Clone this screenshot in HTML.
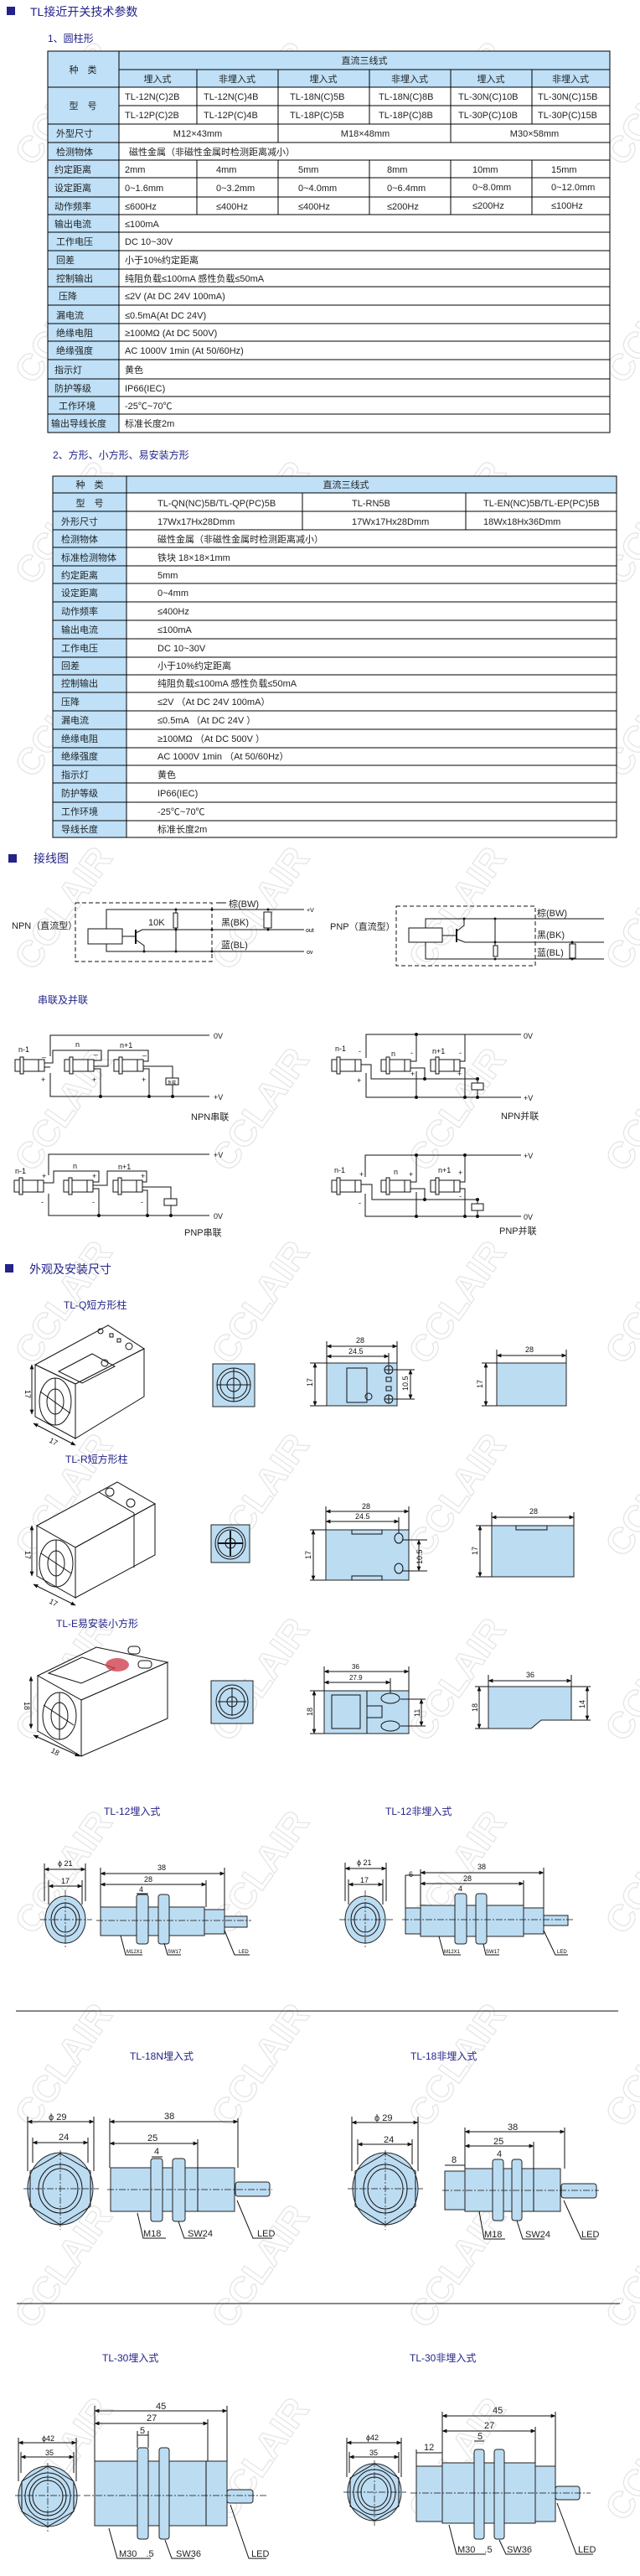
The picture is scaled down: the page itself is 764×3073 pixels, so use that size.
<!DOCTYPE html>
<html><head><meta charset="utf-8"><style>
html,body{margin:0;padding:0;background:#fff;}
svg{display:block;}
text{font-family:"Liberation Sans Narrow","Liberation Sans","Noto Sans CJK SC",sans-serif;}
.t{font-size:11px;fill:#222;}
.h{font-size:14px;fill:#23238a;}
.s{font-size:12px;fill:#23238a;}
.d{font-size:9px;fill:#111;}
.wm{font-size:44px;font-weight:bold;fill:none;stroke:#e4e4e4;stroke-width:1.2;font-family:"Liberation Sans",sans-serif;}
.ln{stroke:#111;stroke-width:1;fill:none;}
.bf{fill:#bcdcf2;stroke:#222;stroke-width:1;}
.dash{stroke:#111;stroke-width:1;fill:none;stroke-dasharray:5 3;}
.cl{stroke:#111;stroke-width:.7;stroke-dasharray:8 2 2 2;fill:none;}
</style></head><body>
<svg width="764" height="3073" viewBox="0 0 764 3073" xmlns="http://www.w3.org/2000/svg">
<defs>
<marker id="a" viewBox="0 0 10 10" refX="9" refY="5" markerWidth="6" markerHeight="6" orient="auto-start-reverse"><path d="M0,1 L10,5 L0,9 z" fill="#111"/></marker>
<g id="sen"><rect x="0" y="0" width="35" height="14" fill="#fff" stroke="#111"/><rect x="6" y="-3" width="4" height="20" fill="#fff" stroke="#111"/><line x1="28" y1="0" x2="28" y2="14" stroke="#111"/></g>
</defs>

<!-- watermarks -->
<g>
<text class="wm" transform="translate(40,200) rotate(-55)">CCLAIR</text>
<text class="wm" transform="translate(275,200) rotate(-55)">CCLAIR</text>
<text class="wm" transform="translate(510,200) rotate(-55)">CCLAIR</text>
<text class="wm" transform="translate(745,200) rotate(-55)">CCLAIR</text>
<text class="wm" transform="translate(40,460) rotate(-55)">CCLAIR</text>
<text class="wm" transform="translate(275,460) rotate(-55)">CCLAIR</text>
<text class="wm" transform="translate(510,460) rotate(-55)">CCLAIR</text>
<text class="wm" transform="translate(745,460) rotate(-55)">CCLAIR</text>
<text class="wm" transform="translate(40,700) rotate(-55)">CCLAIR</text>
<text class="wm" transform="translate(275,700) rotate(-55)">CCLAIR</text>
<text class="wm" transform="translate(510,700) rotate(-55)">CCLAIR</text>
<text class="wm" transform="translate(745,700) rotate(-55)">CCLAIR</text>
<text class="wm" transform="translate(40,930) rotate(-55)">CCLAIR</text>
<text class="wm" transform="translate(275,930) rotate(-55)">CCLAIR</text>
<text class="wm" transform="translate(510,930) rotate(-55)">CCLAIR</text>
<text class="wm" transform="translate(745,930) rotate(-55)">CCLAIR</text>
<text class="wm" transform="translate(40,1160) rotate(-55)">CCLAIR</text>
<text class="wm" transform="translate(275,1160) rotate(-55)">CCLAIR</text>
<text class="wm" transform="translate(510,1160) rotate(-55)">CCLAIR</text>
<text class="wm" transform="translate(745,1160) rotate(-55)">CCLAIR</text>
<text class="wm" transform="translate(40,1400) rotate(-55)">CCLAIR</text>
<text class="wm" transform="translate(275,1400) rotate(-55)">CCLAIR</text>
<text class="wm" transform="translate(510,1400) rotate(-55)">CCLAIR</text>
<text class="wm" transform="translate(745,1400) rotate(-55)">CCLAIR</text>
<text class="wm" transform="translate(40,1630) rotate(-55)">CCLAIR</text>
<text class="wm" transform="translate(275,1630) rotate(-55)">CCLAIR</text>
<text class="wm" transform="translate(510,1630) rotate(-55)">CCLAIR</text>
<text class="wm" transform="translate(745,1630) rotate(-55)">CCLAIR</text>
<text class="wm" transform="translate(40,1860) rotate(-55)">CCLAIR</text>
<text class="wm" transform="translate(275,1860) rotate(-55)">CCLAIR</text>
<text class="wm" transform="translate(510,1860) rotate(-55)">CCLAIR</text>
<text class="wm" transform="translate(745,1860) rotate(-55)">CCLAIR</text>
<text class="wm" transform="translate(40,2080) rotate(-55)">CCLAIR</text>
<text class="wm" transform="translate(275,2080) rotate(-55)">CCLAIR</text>
<text class="wm" transform="translate(510,2080) rotate(-55)">CCLAIR</text>
<text class="wm" transform="translate(745,2080) rotate(-55)">CCLAIR</text>
<text class="wm" transform="translate(40,2310) rotate(-55)">CCLAIR</text>
<text class="wm" transform="translate(275,2310) rotate(-55)">CCLAIR</text>
<text class="wm" transform="translate(510,2310) rotate(-55)">CCLAIR</text>
<text class="wm" transform="translate(745,2310) rotate(-55)">CCLAIR</text>
<text class="wm" transform="translate(40,2540) rotate(-55)">CCLAIR</text>
<text class="wm" transform="translate(275,2540) rotate(-55)">CCLAIR</text>
<text class="wm" transform="translate(510,2540) rotate(-55)">CCLAIR</text>
<text class="wm" transform="translate(745,2540) rotate(-55)">CCLAIR</text>
<text class="wm" transform="translate(40,2780) rotate(-55)">CCLAIR</text>
<text class="wm" transform="translate(275,2780) rotate(-55)">CCLAIR</text>
<text class="wm" transform="translate(510,2780) rotate(-55)">CCLAIR</text>
<text class="wm" transform="translate(745,2780) rotate(-55)">CCLAIR</text>
<text class="wm" transform="translate(40,3010) rotate(-55)">CCLAIR</text>
<text class="wm" transform="translate(275,3010) rotate(-55)">CCLAIR</text>
<text class="wm" transform="translate(510,3010) rotate(-55)">CCLAIR</text>
<text class="wm" transform="translate(745,3010) rotate(-55)">CCLAIR</text>
</g>

<!-- Title -->
<rect x="8" y="8" width="10" height="10" fill="#23238a"/>
<text class="h" x="36" y="19">TL接近开关技术参数</text>
<text class="s" x="57" y="50">1、圆柱形</text>

<!-- TABLE 1 -->
<rect x="57" y="61" width="671" height="455" fill="#fff" stroke="#000"/>
<rect x="57" y="61" width="85" height="455" fill="#bfe0f7"/>
<rect x="142" y="61" width="586" height="43" fill="#bfe0f7"/>
<g stroke="#000" stroke-width="1">
<rect x="57" y="61" width="671" height="455" fill="none"/>
<line x1="142" y1="83" x2="728" y2="83"/>
<line x1="57" y1="104" x2="728" y2="104"/>
<line x1="142" y1="126" x2="728" y2="126"/>
<line x1="57" y1="148" x2="728" y2="148"/>
<line x1="57" y1="170" x2="728" y2="170"/>
<line x1="57" y1="191" x2="728" y2="191"/>
<line x1="57" y1="212" x2="728" y2="212"/>
<line x1="57" y1="235" x2="728" y2="235"/>
<line x1="57" y1="256" x2="728" y2="256"/>
<line x1="57" y1="277" x2="728" y2="277"/>
<line x1="57" y1="299" x2="728" y2="299"/>
<line x1="57" y1="321" x2="728" y2="321"/>
<line x1="57" y1="342" x2="728" y2="342"/>
<line x1="57" y1="364" x2="728" y2="364"/>
<line x1="57" y1="386" x2="728" y2="386"/>
<line x1="57" y1="407" x2="728" y2="407"/>
<line x1="57" y1="429" x2="728" y2="429"/>
<line x1="57" y1="452" x2="728" y2="452"/>
<line x1="57" y1="473" x2="728" y2="473"/>
<line x1="57" y1="494" x2="728" y2="494"/>
<line x1="142" y1="61" x2="142" y2="516"/>
<line x1="235" y1="83" x2="235" y2="148"/><line x1="235" y1="191" x2="235" y2="256"/>
<line x1="332" y1="83" x2="332" y2="170"/><line x1="332" y1="191" x2="332" y2="256"/>
<line x1="441" y1="83" x2="441" y2="148"/><line x1="441" y1="191" x2="441" y2="256"/>
<line x1="538" y1="83" x2="538" y2="170"/><line x1="538" y1="191" x2="538" y2="256"/>
<line x1="635" y1="83" x2="635" y2="148"/><line x1="635" y1="191" x2="635" y2="256"/>
</g>
<g class="t">
<text x="99" y="87" text-anchor="middle">种　类</text>
<text x="435" y="76" text-anchor="middle">直流三线式</text>
<text x="188" y="98" text-anchor="middle">埋入式</text><text x="283" y="98" text-anchor="middle">非埋入式</text>
<text x="386" y="98" text-anchor="middle">埋入式</text><text x="489" y="98" text-anchor="middle">非埋入式</text>
<text x="586" y="98" text-anchor="middle">埋入式</text><text x="681" y="98" text-anchor="middle">非埋入式</text>
<text x="99" y="130" text-anchor="middle">型　号</text>
<text x="149" y="119">TL-12N(C)2B</text><text x="243" y="119">TL-12N(C)4B</text><text x="346" y="119">TL-18N(C)5B</text><text x="452" y="119">TL-18N(C)8B</text><text x="547" y="119">TL-30N(C)10B</text><text x="642" y="119">TL-30N(C)15B</text>
<text x="149" y="141">TL-12P(C)2B</text><text x="243" y="141">TL-12P(C)4B</text><text x="346" y="141">TL-18P(C)5B</text><text x="452" y="141">TL-18P(C)8B</text><text x="547" y="141">TL-30P(C)10B</text><text x="642" y="141">TL-30P(C)15B</text>
<text x="67" y="163">外型尺寸</text>
<text x="236" y="163" text-anchor="middle">M12×43mm</text><text x="436" y="163" text-anchor="middle">M18×48mm</text><text x="638" y="163" text-anchor="middle">M30×58mm</text>
<text x="67" y="185">检测物体</text><text x="154" y="185">磁性金属（非磁性金属时检测距离减小）</text>
<text x="65" y="206">约定距离</text>
<text x="149" y="206">2mm</text><text x="258" y="206">4mm</text><text x="356" y="206">5mm</text><text x="462" y="206">8mm</text><text x="564" y="206">10mm</text><text x="658" y="206">15mm</text>
<text x="65" y="228">设定距离</text>
<text x="149" y="228">0~1.6mm</text><text x="258" y="228">0~3.2mm</text><text x="356" y="228">0~4.0mm</text><text x="462" y="228">0~6.4mm</text><text x="564" y="227">0~8.0mm</text><text x="658" y="227">0~12.0mm</text>
<text x="65" y="250">动作频率</text>
<text x="149" y="250">≤600Hz</text><text x="258" y="250">≤400Hz</text><text x="356" y="250">≤400Hz</text><text x="462" y="250">≤200Hz</text><text x="564" y="249">≤200Hz</text><text x="658" y="249">≤100Hz</text>
<text x="65" y="271">输出电流</text><text x="149" y="271">≤100mA</text>
<text x="67" y="292">工作电压</text><text x="149" y="292">DC 10~30V</text>
<text x="67" y="314">回差</text><text x="149" y="314">小于10%约定距离</text>
<text x="67" y="336">控制输出</text><text x="149" y="336">纯阻负载≤100mA 感性负载≤50mA</text>
<text x="70" y="357">压降</text><text x="149" y="357">≤2V (At DC 24V 100mA)</text>
<text x="67" y="380">漏电流</text><text x="149" y="380">≤0.5mA(At DC 24V)</text>
<text x="67" y="401">绝缘电阻</text><text x="149" y="401">≥100MΩ (At DC 500V)</text>
<text x="67" y="422">绝缘强度</text><text x="149" y="422">AC 1000V 1min (At 50/60Hz)</text>
<text x="65" y="445">指示灯</text><text x="149" y="445">黄色</text>
<text x="65" y="467">防护等级</text><text x="149" y="467">IP66(IEC)</text>
<text x="70" y="488">工作环境</text><text x="149" y="488">-25℃~70℃</text>
<text x="61" y="509">输出导线长度</text><text x="149" y="509">标准长度2m</text>
</g>

<text class="s" x="63" y="547">2、方形、小方形、易安装方形</text>

<!-- TABLE 2 -->
<rect x="63" y="568" width="673" height="431" fill="#fff"/>
<rect x="63" y="568" width="88" height="431" fill="#bfe0f7"/>
<rect x="151" y="568" width="585" height="20" fill="#bfe0f7"/>
<g stroke="#000" stroke-width="1">
<rect x="63" y="568" width="673" height="431" fill="none"/>
<line x1="63" y1="588" x2="736" y2="588"/><line x1="63" y1="610" x2="736" y2="610"/><line x1="63" y1="632" x2="736" y2="632"/>
<line x1="63" y1="653" x2="736" y2="653"/><line x1="63" y1="675" x2="736" y2="675"/><line x1="63" y1="696" x2="736" y2="696"/>
<line x1="63" y1="718" x2="736" y2="718"/><line x1="63" y1="740" x2="736" y2="740"/><line x1="63" y1="762" x2="736" y2="762"/>
<line x1="63" y1="784" x2="736" y2="784"/><line x1="63" y1="805" x2="736" y2="805"/><line x1="63" y1="826" x2="736" y2="826"/>
<line x1="63" y1="848" x2="736" y2="848"/><line x1="63" y1="870" x2="736" y2="870"/><line x1="63" y1="892" x2="736" y2="892"/>
<line x1="63" y1="913" x2="736" y2="913"/><line x1="63" y1="934" x2="736" y2="934"/><line x1="63" y1="957" x2="736" y2="957"/>
<line x1="63" y1="979" x2="736" y2="979"/>
<line x1="151" y1="568" x2="151" y2="999"/>
<line x1="361" y1="588" x2="361" y2="632"/><line x1="556" y1="588" x2="556" y2="632"/>
</g>
<g class="t">
<text x="107" y="582" text-anchor="middle">种　类</text><text x="413" y="582" text-anchor="middle">直流三线式</text>
<text x="107" y="604" text-anchor="middle">型　号</text>
<text x="188" y="604">TL-QN(NC)5B/TL-QP(PC)5B</text><text x="420" y="604">TL-RN5B</text><text x="577" y="604">TL-EN(NC)5B/TL-EP(PC)5B</text>
<text x="73" y="626">外形尺寸</text><text x="188" y="626">17Wx17Hx28Dmm</text><text x="420" y="626">17Wx17Hx28Dmm</text><text x="577" y="626">18Wx18Hx36Dmm</text>
<text x="73" y="647">检测物体</text><text x="188" y="647">磁性金属（非磁性金属时检测距离减小）</text>
<text x="73" y="669">标准检测物体</text><text x="188" y="669">铁块 18×18×1mm</text>
<text x="73" y="690">约定距离</text><text x="188" y="690">5mm</text>
<text x="73" y="711">设定距离</text><text x="188" y="711">0~4mm</text>
<text x="73" y="733">动作频率</text><text x="188" y="733">≤400Hz</text>
<text x="73" y="755">输出电流</text><text x="188" y="755">≤100mA</text>
<text x="73" y="777">工作电压</text><text x="188" y="777">DC 10~30V</text>
<text x="73" y="798">回差</text><text x="188" y="798">小于10%约定距离</text>
<text x="73" y="819">控制输出</text><text x="188" y="819">纯阻负载≤100mA 感性负载≤50mA</text>
<text x="73" y="841">压降</text><text x="188" y="841">≤2V （At DC 24V 100mA）</text>
<text x="73" y="863">漏电流</text><text x="188" y="863">≤0.5mA （At DC 24V ）</text>
<text x="73" y="885">绝缘电阻</text><text x="188" y="885">≥100MΩ （At DC 500V ）</text>
<text x="73" y="906">绝缘强度</text><text x="188" y="906">AC 1000V 1min （At 50/60Hz）</text>
<text x="73" y="928">指示灯</text><text x="188" y="928">黄色</text>
<text x="73" y="950">防护等级</text><text x="188" y="950">IP66(IEC)</text>
<text x="73" y="972">工作环境</text><text x="188" y="972">-25℃~70℃</text>
<text x="73" y="993">导线长度</text><text x="188" y="993">标准长度2m</text>
</g>

<!-- Wiring -->
<rect x="10" y="1019" width="10" height="10" fill="#23238a"/>
<text class="h" x="40" y="1029">接线图</text>

<!-- NPN -->
<text class="t" x="14" y="1108">NPN（直流型）</text>
<rect class="dash" x="90" y="1077" width="163" height="70"/>
<g class="ln">
<polyline points="363,1085 127,1085 127,1108"/>
<rect x="105" y="1108" width="41" height="18" fill="#fff"/>
<polyline points="127,1126 127,1135 363,1135"/>
<line x1="146" y1="1117" x2="161" y2="1117"/>
<line x1="162" y1="1109" x2="162" y2="1126" stroke-width="2"/>
<polyline points="162,1113 170,1109 363,1109"/>
<polyline points="162,1121 172,1128 172,1135"/>
<line x1="210" y1="1085" x2="210" y2="1089"/><rect x="207" y="1089" width="5" height="18" fill="#fff"/>
<line x1="210" y1="1109" x2="210" y2="1135"/>
<rect x="315" y="1088" width="9" height="19" fill="#fff"/>
</g>
<g fill="#111"><circle cx="210" cy="1085" r="1.5"/><circle cx="210" cy="1109" r="1.5"/><circle cx="210" cy="1135" r="1.5"/><circle cx="172" cy="1135" r="1.5"/><circle cx="253" cy="1085" r="1.5"/><circle cx="253" cy="1109" r="1.5"/><circle cx="253" cy="1135" r="1.5"/><circle cx="320" cy="1085" r="1.5"/><circle cx="320" cy="1109" r="1.5"/></g>
<line x1="258" y1="1077" x2="270" y2="1077" class="ln"/>
<text class="t" x="273" y="1082">棕(BW)</text>
<text class="t" x="264" y="1104">黑(BK)</text>
<text class="t" x="264" y="1131">蓝(BL)</text>
<text class="t" x="177" y="1104">10K</text>
<text x="366" y="1088" style="font-size:7px">+V</text>
<text x="365" y="1112" style="font-size:7px">out</text>
<text x="366" y="1138" style="font-size:7px">ov</text>

<!-- PNP -->
<text class="t" x="394" y="1109">PNP（直流型）</text>
<rect class="dash" x="473" y="1081" width="166" height="71"/>
<g class="ln">
<polyline points="721,1096 508,1096 508,1107"/>
<rect x="488" y="1107" width="40" height="17" fill="#fff"/>
<polyline points="508,1124 508,1144 721,1144"/>
<line x1="528" y1="1116" x2="544" y2="1116"/>
<line x1="545" y1="1108" x2="545" y2="1124" stroke-width="2"/>
<polyline points="545,1111 554,1104 554,1096"/>
<polyline points="545,1120 555,1124 721,1124"/>
<line x1="591" y1="1096" x2="591" y2="1124"/>
<rect x="589" y="1128" width="5" height="13" fill="#fff"/><line x1="591" y1="1124" x2="591" y2="1128"/>
<rect x="680" y="1126" width="7" height="17" fill="#fff"/>
</g>
<g fill="#111"><circle cx="554" cy="1096" r="1.5"/><circle cx="591" cy="1096" r="1.5"/><circle cx="591" cy="1124" r="1.5"/><circle cx="591" cy="1144" r="1.5"/><circle cx="683" cy="1124" r="1.5"/><circle cx="683" cy="1144" r="1.5"/></g>
<text class="t" x="641" y="1093">棕(BW)</text>
<text class="t" x="641" y="1119">黑(BK)</text>
<text class="t" x="641" y="1140">蓝(BL)</text>

<text class="s" x="45" y="1197">串联及并联</text>

<!-- NPN series -->
<g class="ln">
<polyline points="250,1235 60,1235 60,1260"/>
<polyline points="60,1280 60,1308 250,1308"/>
<polyline points="53,1268 63,1268 63,1253 121,1253 121,1265 112,1265"/>
<polyline points="112,1272 129,1272 129,1253 177,1253 177,1266 171,1266"/>
<polyline points="171,1272 206,1272 206,1286"/><rect x="198" y="1286" width="15" height="8" fill="#fff"/><line x1="206" y1="1294" x2="206" y2="1308"/>
<polyline points="53,1273 60,1273"/>
<polyline points="112,1275 120,1275 120,1308"/>
<polyline points="171,1275 178,1275 178,1308"/>
</g>
<use href="#sen" x="18" y="1264"/><use href="#sen" x="77" y="1264"/><use href="#sen" x="136" y="1264"/>
<g fill="#111"><circle cx="120" cy="1308" r="2"/><circle cx="178" cy="1308" r="2"/><circle cx="206" cy="1308" r="2"/></g>
<g class="d"><text x="22" y="1255">n-1</text><text x="90" y="1249">n</text><text x="143" y="1250">n+1</text><text x="255" y="1239">0V</text><text x="255" y="1312">+V</text>
<text x="49" y="1291">+</text><text x="110" y="1291">+</text><text x="169" y="1291">+</text><text x="50" y="1260">_</text><text x="112" y="1257">_</text><text x="170" y="1258">_</text>
<text x="200" y="1293" style="font-size:5px">负载</text></g>
<text class="t" x="228" y="1336">NPN串联</text>

<!-- NPN parallel -->
<g class="ln">
<polyline points="622,1234 437,1234 437,1262"/>
<polyline points="437,1280 437,1309 622,1309"/>
<polyline points="497,1234 497,1266 489,1266"/>
<polyline points="555,1234 555,1266 548,1266"/>
<polyline points="430,1270 443,1270 443,1287 570,1287 570,1309"/>
<polyline points="489,1274 507,1274 507,1287"/>
<polyline points="548,1274 555,1274 555,1309"/>
<polyline points="497,1278 497,1309"/>
<rect x="563" y="1292" width="14" height="8" fill="#fff"/>
</g>
<use href="#sen" x="396" y="1264"/><use href="#sen" x="455" y="1264"/><use href="#sen" x="514" y="1264"/>
<g fill="#111"><circle cx="497" cy="1234" r="2"/><circle cx="507" cy="1287" r="2"/><circle cx="570" cy="1287" r="2"/><circle cx="497" cy="1309" r="2"/><circle cx="555" cy="1309" r="2"/><circle cx="570" cy="1309" r="2"/></g>
<g class="d"><text x="400" y="1254">n-1</text><text x="467" y="1260">n</text><text x="516" y="1257">n+1</text><text x="625" y="1239">0V</text><text x="625" y="1313">+V</text>
<text x="426" y="1292">+</text><text x="490" y="1284">+</text><text x="546" y="1284">+</text><text x="428" y="1257">-</text><text x="490" y="1259">-</text><text x="548" y="1259">-</text></g>
<text class="t" x="598" y="1335">NPN并联</text>

<!-- PNP series -->
<g class="ln">
<polyline points="250,1377 58,1377 58,1402"/>
<polyline points="58,1424 58,1450 250,1450"/>
<polyline points="51,1411 64,1411 64,1397 118,1397 118,1410 110,1410"/>
<polyline points="110,1414 128,1414 128,1397 175,1397 175,1410 169,1410"/>
<polyline points="169,1416 204,1416 204,1430"/><rect x="196" y="1430" width="15" height="8" fill="#fff"/><line x1="204" y1="1438" x2="204" y2="1450"/>
<polyline points="110,1418 118,1418 118,1450"/>
<polyline points="169,1420 176,1420 176,1450"/>
</g>
<use href="#sen" x="17" y="1408"/><use href="#sen" x="76" y="1408"/><use href="#sen" x="135" y="1408"/>
<g fill="#111"><circle cx="118" cy="1450" r="2"/><circle cx="176" cy="1450" r="2"/><circle cx="204" cy="1450" r="2"/></g>
<g class="d"><text x="18" y="1400">n-1</text><text x="87" y="1394">n</text><text x="141" y="1395">n+1</text><text x="255" y="1381">+V</text><text x="255" y="1454">0V</text>
<text x="50" y="1406">+</text><text x="110" y="1406">+</text><text x="168" y="1406">+</text><text x="49" y="1437">-</text><text x="110" y="1437">-</text><text x="168" y="1437">-</text></g>
<text class="t" x="220" y="1474">PNP串联</text>

<!-- PNP parallel -->
<g class="ln">
<polyline points="622,1378 436,1378 436,1404"/>
<polyline points="436,1424 436,1451 622,1451"/>
<polyline points="497,1378 497,1410 489,1410"/>
<polyline points="555,1378 555,1410 548,1410"/>
<polyline points="430,1413 444,1413 444,1431 570,1431 570,1451"/>
<polyline points="489,1418 507,1418 507,1431"/>
<polyline points="548,1418 555,1418 555,1451"/>
<polyline points="497,1422 497,1451"/>
<rect x="563" y="1436" width="14" height="8" fill="#fff"/>
</g>
<use href="#sen" x="396" y="1408"/><use href="#sen" x="455" y="1408"/><use href="#sen" x="514" y="1408"/>
<g fill="#111"><circle cx="497" cy="1378" r="2"/><circle cx="555" cy="1378" r="2"/><circle cx="507" cy="1431" r="2"/><circle cx="570" cy="1431" r="2"/><circle cx="497" cy="1451" r="2"/><circle cx="555" cy="1451" r="2"/><circle cx="570" cy="1451" r="2"/></g>
<g class="d"><text x="399" y="1399">n-1</text><text x="470" y="1401">n</text><text x="523" y="1399">n+1</text><text x="625" y="1382">+V</text><text x="625" y="1455">0V</text>
<text x="429" y="1404">+</text><text x="488" y="1404">+</text><text x="547" y="1402">+</text><text x="428" y="1438">-</text><text x="548" y="1430">-</text></g>
<text class="t" x="596" y="1472">PNP并联</text>

<!-- Appearance -->
<rect x="6" y="1508" width="10" height="10" fill="#23238a"/>
<text class="h" x="35" y="1519">外观及安装尺寸</text>

<text class="s" x="76" y="1561">TL-Q短方形柱</text>
<!-- Q iso -->
<g class="ln" fill="#fff">
<polygon points="42,1628 129,1581 172,1609 90,1651" fill="#fff"/>
<polygon points="90,1651 172,1609 172,1666 90,1716" fill="#fff"/>
<polygon points="42,1628 90,1651 90,1716 42,1690" fill="#fff"/>
<polygon points="70,1636 110,1615 137,1630 98,1650"/>
<ellipse cx="66" cy="1672" rx="19" ry="28"/><ellipse cx="66" cy="1672" rx="10" ry="15"/>
<line x1="66" y1="1644" x2="66" y2="1700"/><line x1="48" y1="1660" x2="84" y2="1686"/>
<circle cx="125" cy="1626" r="4"/><circle cx="120" cy="1588" r="3"/><circle cx="154" cy="1606" r="4"/>
<rect x="131" y="1591" width="4" height="4"/><rect x="140" y="1597" width="4" height="4"/>
<line x1="38" y1="1628" x2="38" y2="1687" marker-start="url(#a)" marker-end="url(#a)"/>
<line x1="40" y1="1698" x2="90" y2="1724" marker-start="url(#a)" marker-end="url(#a)"/>
</g>
<text class="d" x="30" y="1658" transform="rotate(90 30 1658)">17</text>
<text class="d" x="58" y="1720" transform="rotate(28 58 1720)">17</text>
<!-- Q front -->
<rect class="bf" x="254" y="1627" width="50" height="51"/>
<g class="ln"><circle cx="279" cy="1652" r="20"/><circle cx="279" cy="1652" r="16"/><circle cx="279" cy="1652" r="8"/><line x1="259" y1="1652" x2="299" y2="1652"/><line x1="279" y1="1632" x2="279" y2="1672"/></g>
<!-- Q top dims -->
<rect class="bf" x="390" y="1626" width="84" height="51"/>
<g class="ln"><rect x="414" y="1632" width="24" height="41"/><circle cx="440" cy="1666" r="4"/>
<circle cx="464" cy="1634" r="5"/><line x1="459" y1="1634" x2="469" y2="1634"/><line x1="464" y1="1629" x2="464" y2="1639"/>
<circle cx="464" cy="1669" r="5"/><line x1="459" y1="1669" x2="469" y2="1669"/><line x1="464" y1="1664" x2="464" y2="1674"/>
<rect x="461" y="1643" width="6" height="5"/><rect x="461" y="1654" width="6" height="5"/>
<line x1="390" y1="1606" x2="474" y2="1606" marker-start="url(#a)" marker-end="url(#a)"/>
<line x1="390" y1="1618" x2="464" y2="1618" marker-start="url(#a)" marker-end="url(#a)"/>
<line x1="390" y1="1600" x2="390" y2="1626"/><line x1="474" y1="1600" x2="474" y2="1626"/><line x1="464" y1="1614" x2="464" y2="1628"/>
<line x1="376" y1="1626" x2="376" y2="1677" marker-start="url(#a)" marker-end="url(#a)"/>
<line x1="370" y1="1626" x2="390" y2="1626"/><line x1="370" y1="1677" x2="390" y2="1677"/>
<line x1="490" y1="1634" x2="490" y2="1669" marker-start="url(#a)" marker-end="url(#a)"/>
<line x1="470" y1="1634" x2="495" y2="1634"/><line x1="470" y1="1669" x2="495" y2="1669"/>
</g>
<text class="d" x="425" y="1602">28</text><text class="d" x="416" y="1615">24.5</text>
<text class="d" x="373" y="1654" transform="rotate(-90 373 1654)">17</text>
<text class="d" x="487" y="1659" transform="rotate(-90 487 1659)">10.5</text>
<!-- Q side -->
<rect class="bf" x="593" y="1626" width="83" height="51"/>
<g class="ln"><line x1="593" y1="1617" x2="676" y2="1617" marker-start="url(#a)" marker-end="url(#a)"/><line x1="593" y1="1610" x2="593" y2="1626"/><line x1="676" y1="1610" x2="676" y2="1626"/>
<line x1="580" y1="1626" x2="580" y2="1677" marker-start="url(#a)" marker-end="url(#a)"/><line x1="575" y1="1626" x2="593" y2="1626"/><line x1="575" y1="1677" x2="593" y2="1677"/></g>
<text class="d" x="627" y="1613">28</text><text class="d" x="576" y="1656" transform="rotate(-90 576 1656)">17</text>

<text class="s" x="78" y="1745">TL-R短方形柱</text>
<!-- R iso -->
<g class="ln">
<polygon points="44,1820 140,1768 185,1794 90,1846" fill="#fff"/>
<polygon points="90,1846 185,1794 185,1855 90,1906" fill="#fff"/>
<polygon points="44,1820 90,1846 90,1906 44,1880" fill="#fff"/>
<line x1="118" y1="1780" x2="160" y2="1805"/><line x1="160" y1="1805" x2="160" y2="1870"/>
<circle cx="131" cy="1780" r="5"/><circle cx="156" cy="1793" r="5"/>
<ellipse cx="67" cy="1865" rx="20" ry="28"/><ellipse cx="67" cy="1865" rx="10" ry="15"/>
<line x1="67" y1="1837" x2="67" y2="1893"/><line x1="49" y1="1853" x2="85" y2="1877"/>
<line x1="38" y1="1820" x2="38" y2="1880" marker-start="url(#a)" marker-end="url(#a)"/>
<line x1="40" y1="1890" x2="90" y2="1915" marker-start="url(#a)" marker-end="url(#a)"/>
</g>
<text class="d" x="30" y="1850" transform="rotate(90 30 1850)">17</text>
<text class="d" x="58" y="1912" transform="rotate(28 58 1912)">17</text>
<rect class="bf" x="252" y="1819" width="46" height="45"/>
<g class="ln"><ellipse cx="275" cy="1841" rx="18" ry="19"/><ellipse cx="275" cy="1841" rx="15" ry="16"/><circle cx="275" cy="1841" r="6"/><line x1="260" y1="1841" x2="290" y2="1841" stroke-width="2"/><line x1="275" y1="1826" x2="275" y2="1856" stroke-width="2"/></g>
<rect class="bf" x="389" y="1825" width="99" height="60"/>
<g class="ln"><rect x="420" y="1825" width="36" height="5"/><rect x="420" y="1880" width="36" height="5"/>
<ellipse cx="476" cy="1835" rx="5" ry="6"/><ellipse cx="476" cy="1871" rx="5" ry="6"/>
<line x1="389" y1="1803" x2="488" y2="1803" marker-start="url(#a)" marker-end="url(#a)"/><line x1="389" y1="1815" x2="476" y2="1815" marker-start="url(#a)" marker-end="url(#a)"/>
<line x1="389" y1="1797" x2="389" y2="1825"/><line x1="488" y1="1797" x2="488" y2="1825"/><line x1="476" y1="1810" x2="476" y2="1829"/>
<line x1="374" y1="1825" x2="374" y2="1885" marker-start="url(#a)" marker-end="url(#a)"/><line x1="370" y1="1825" x2="389" y2="1825"/><line x1="370" y1="1885" x2="389" y2="1885"/>
<line x1="500" y1="1837" x2="500" y2="1874" marker-start="url(#a)" marker-end="url(#a)"/><line x1="480" y1="1837" x2="510" y2="1837"/><line x1="480" y1="1874" x2="510" y2="1874"/></g>
<text class="d" x="432" y="1800">28</text><text class="d" x="424" y="1812">24.5</text>
<text class="d" x="371" y="1860" transform="rotate(-90 371 1860)">17</text>
<text class="d" x="504" y="1866" transform="rotate(-90 504 1866)">10.5</text>
<rect class="bf" x="587" y="1820" width="98" height="61"/>
<g class="ln"><rect x="616" y="1820" width="37" height="5"/><line x1="587" y1="1810" x2="685" y2="1810" marker-start="url(#a)" marker-end="url(#a)"/><line x1="587" y1="1804" x2="587" y2="1820"/><line x1="685" y1="1804" x2="685" y2="1820"/>
<line x1="573" y1="1820" x2="573" y2="1881" marker-start="url(#a)" marker-end="url(#a)"/><line x1="568" y1="1820" x2="587" y2="1820"/><line x1="568" y1="1881" x2="587" y2="1881"/></g>
<text class="d" x="632" y="1806">28</text><text class="d" x="570" y="1855" transform="rotate(-90 570 1855)">17</text>

<text class="s" x="67" y="1941">TL-E易安装小方形</text>
<!-- E iso -->
<g class="ln">
<polygon points="45,1999 115,1965 200,1983 97,2028" fill="#fff"/>
<polygon points="97,2028 200,1983 200,2050 97,2095" fill="#fff"/>
<polygon points="45,1999 97,2028 97,2095 45,2065" fill="#fff"/>
<polygon points="58,1996 98,1977 137,1990 97,2008"/>
<rect x="153" y="1964" width="14" height="9" rx="4"/><rect x="165" y="1981" width="16" height="9" rx="4"/>
<ellipse cx="71" cy="2047" rx="20" ry="28"/><ellipse cx="71" cy="2047" rx="10" ry="16"/>
<line x1="71" y1="2019" x2="71" y2="2075"/><line x1="52" y1="2034" x2="88" y2="2058"/>
<line x1="37" y1="2000" x2="37" y2="2062" marker-start="url(#a)" marker-end="url(#a)"/>
<line x1="40" y1="2070" x2="95" y2="2095" marker-start="url(#a)" marker-end="url(#a)"/>
</g>
<ellipse cx="140" cy="1986" rx="14" ry="8" fill="#d04050" opacity=".8"/>
<text class="d" x="29" y="2030" transform="rotate(90 29 2030)">18</text>
<text class="d" x="60" y="2090" transform="rotate(28 60 2090)">18</text>
<rect class="bf" x="252" y="2005" width="50" height="51"/>
<g class="ln"><ellipse cx="277" cy="2030" rx="19" ry="20"/><ellipse cx="277" cy="2030" rx="15" ry="16"/><circle cx="277" cy="2030" r="6"/><line x1="260" y1="2030" x2="294" y2="2030"/><line x1="277" y1="2013" x2="277" y2="2047"/></g>
<rect class="bf" x="387" y="2017" width="101" height="51"/>
<g class="ln"><rect x="396" y="2022" width="34" height="40"/><line x1="438" y1="2017" x2="438" y2="2068"/><rect x="438" y="2035" width="18" height="14"/>
<ellipse cx="466" cy="2026" rx="11" ry="6"/><ellipse cx="466" cy="2059" rx="11" ry="6"/>
<line x1="387" y1="1994" x2="488" y2="1994" marker-start="url(#a)" marker-end="url(#a)"/><line x1="387" y1="2007" x2="466" y2="2007" marker-start="url(#a)" marker-end="url(#a)"/>
<line x1="387" y1="1988" x2="387" y2="2017"/><line x1="488" y1="1988" x2="488" y2="2017"/><line x1="466" y1="2002" x2="466" y2="2020"/>
<line x1="375" y1="2017" x2="375" y2="2068" marker-start="url(#a)" marker-end="url(#a)"/><line x1="370" y1="2017" x2="387" y2="2017"/><line x1="370" y1="2068" x2="387" y2="2068"/>
<line x1="503" y1="2027" x2="503" y2="2059" marker-start="url(#a)" marker-end="url(#a)"/><line x1="478" y1="2027" x2="508" y2="2027"/><line x1="478" y1="2059" x2="508" y2="2059"/></g>
<text class="d" x="420" y="1991" style="font-size:8px">36</text><text class="d" x="417" y="2004" style="font-size:8px">27.9</text>
<text class="d" x="373" y="2047" transform="rotate(-90 373 2047)">18</text>
<text class="d" x="501" y="2048" transform="rotate(-90 501 2048)">11</text>
<polygon class="bf" points="583,2012 682,2012 682,2052 646,2052 634,2062 583,2062"/>
<g class="ln"><line x1="583" y1="2005" x2="682" y2="2005" marker-start="url(#a)" marker-end="url(#a)"/><line x1="583" y1="1998" x2="583" y2="2012"/><line x1="682" y1="1998" x2="682" y2="2012"/>
<line x1="572" y1="2012" x2="572" y2="2062" marker-start="url(#a)" marker-end="url(#a)"/><line x1="567" y1="2012" x2="583" y2="2012"/><line x1="567" y1="2062" x2="583" y2="2062"/>
<line x1="701" y1="2012" x2="701" y2="2052" marker-start="url(#a)" marker-end="url(#a)"/><line x1="682" y1="2012" x2="705" y2="2012"/><line x1="682" y1="2052" x2="705" y2="2052"/></g>
<text class="d" x="628" y="2001">36</text><text class="d" x="570" y="2042" transform="rotate(-90 570 2042)">18</text><text class="d" x="698" y="2038" transform="rotate(-90 698 2038)">14</text>

<!-- TL-12 -->
<text class="s" x="124" y="2165">TL-12埋入式</text>
<text class="s" x="460" y="2165">TL-12非埋入式</text>
<g>
<ellipse class="bf" cx="78" cy="2290" rx="24" ry="28"/>
<g class="ln"><ellipse cx="78" cy="2290" rx="17" ry="20"/><ellipse cx="78" cy="2290" rx="13" ry="15"/></g>
<rect class="bf" x="120" y="2275" width="124" height="34"/>
<rect class="bf" x="244" y="2278" width="24" height="29"/>
<rect class="bf" x="268" y="2286" width="27" height="13"/>
<rect class="bf" x="163" y="2260" width="14" height="59" rx="3"/>
<rect class="bf" x="189" y="2260" width="13" height="59" rx="3"/>
<g class="cl"><line x1="48" y1="2290" x2="110" y2="2290"/><line x1="78" y1="2255" x2="78" y2="2325"/><line x1="115" y1="2291" x2="300" y2="2291"/></g>
<g class="ln">
<line x1="53" y1="2230" x2="102" y2="2230" marker-start="url(#a)" marker-end="url(#a)"/><line x1="53" y1="2223" x2="53" y2="2268"/><line x1="102" y1="2223" x2="102" y2="2268"/>
<line x1="58" y1="2250" x2="98" y2="2250" marker-start="url(#a)" marker-end="url(#a)"/><line x1="58" y1="2243" x2="58" y2="2272"/><line x1="98" y1="2243" x2="98" y2="2272"/>
<line x1="120" y1="2235" x2="268" y2="2235" marker-start="url(#a)" marker-end="url(#a)"/><line x1="120" y1="2228" x2="120" y2="2275"/><line x1="268" y1="2228" x2="268" y2="2278"/>
<line x1="120" y1="2248" x2="246" y2="2248" marker-start="url(#a)" marker-end="url(#a)"/><line x1="246" y1="2243" x2="246" y2="2275"/>
<line x1="163" y1="2259" x2="177" y2="2259"/>
<polyline points="144,2309 150,2332 170,2332"/><polyline points="196,2318 200,2332 216,2332"/><polyline points="268,2303 280,2332 298,2332"/>
</g>
<text class="d" x="69" y="2226">ϕ 21</text><text class="d" x="73" y="2247">17</text><text class="d" x="188" y="2231">38</text><text class="d" x="172" y="2245">28</text><text class="d" x="166" y="2257">4</text>
<text x="151" y="2330" style="font-size:6px">M12X1</text><text x="200" y="2330" style="font-size:6px">SW17</text><text x="285" y="2330" style="font-size:6px">LED</text>
</g>
<g>
<ellipse class="bf" cx="436" cy="2290" rx="24" ry="28"/>
<g class="ln"><ellipse cx="436" cy="2290" rx="17" ry="20"/><ellipse cx="436" cy="2290" rx="13" ry="15"/></g>
<rect class="bf" x="484" y="2276" width="18" height="31"/>
<rect class="bf" x="502" y="2273" width="123" height="37"/>
<rect class="bf" x="625" y="2276" width="24" height="31"/>
<rect class="bf" x="649" y="2285" width="29" height="12"/>
<rect class="bf" x="543" y="2259" width="14" height="60" rx="3"/>
<rect class="bf" x="568" y="2259" width="13" height="60" rx="3"/>
<g class="cl"><line x1="405" y1="2290" x2="470" y2="2290"/><line x1="436" y1="2255" x2="436" y2="2325"/><line x1="480" y1="2290" x2="685" y2="2290"/></g>
<g class="ln">
<line x1="412" y1="2229" x2="461" y2="2229" marker-start="url(#a)" marker-end="url(#a)"/><line x1="412" y1="2222" x2="412" y2="2268"/><line x1="461" y1="2222" x2="461" y2="2268"/>
<line x1="416" y1="2248" x2="457" y2="2248" marker-start="url(#a)" marker-end="url(#a)"/><line x1="416" y1="2242" x2="416" y2="2272"/><line x1="457" y1="2242" x2="457" y2="2272"/>
<line x1="502" y1="2234" x2="649" y2="2234" marker-start="url(#a)" marker-end="url(#a)"/><line x1="502" y1="2230" x2="502" y2="2273"/><line x1="649" y1="2228" x2="649" y2="2276"/>
<line x1="502" y1="2247" x2="625" y2="2247" marker-start="url(#a)" marker-end="url(#a)"/><line x1="625" y1="2243" x2="625" y2="2273"/>
<line x1="484" y1="2237" x2="484" y2="2276"/><line x1="484" y1="2237" x2="502" y2="2237"/>
<polyline points="524,2310 530,2332 550,2332"/><polyline points="577,2319 580,2332 596,2332"/><polyline points="649,2303 663,2332 678,2332"/>
</g>
<text class="d" x="426" y="2225">ϕ 21</text><text class="d" x="430" y="2246">17</text><text class="d" x="488" y="2239">6</text><text class="d" x="570" y="2230">38</text><text class="d" x="553" y="2244">28</text><text class="d" x="547" y="2256">4</text>
<text x="530" y="2330" style="font-size:6px">M12X1</text><text x="580" y="2330" style="font-size:6px">SW17</text><text x="665" y="2330" style="font-size:6px">LED</text>
</g>
<line x1="19" y1="2399" x2="738" y2="2399" stroke="#111"/>

<!-- TL-18 -->
<text class="s" x="155" y="2457">TL-18N埋入式</text>
<text class="s" x="490" y="2457">TL-18非埋入式</text>
<g>
<ellipse class="bf" cx="72" cy="2611" rx="39" ry="43"/>
<polygon class="ln" points="72,2569 108,2590 108,2632 72,2654 36,2632 36,2590"/>
<g class="ln"><ellipse cx="72" cy="2611" rx="26" ry="29"/><ellipse cx="72" cy="2611" rx="21" ry="24"/></g>
<rect class="bf" x="132" y="2586" width="148" height="52"/>
<line class="ln" x1="236" y1="2586" x2="236" y2="2638"/>
<rect class="bf" x="281" y="2603" width="41" height="17" rx="3"/>
<rect class="bf" x="180" y="2575" width="14" height="75" rx="3"/>
<rect class="bf" x="206" y="2575" width="15" height="75" rx="3"/>
<g class="cl"><line x1="28" y1="2611" x2="118" y2="2611"/><line x1="72" y1="2565" x2="72" y2="2660"/><line x1="128" y1="2612" x2="325" y2="2612"/></g>
<g class="ln">
<line x1="33" y1="2531" x2="112" y2="2531" marker-start="url(#a)" marker-end="url(#a)"/><line x1="33" y1="2525" x2="33" y2="2590"/><line x1="112" y1="2525" x2="112" y2="2590"/>
<line x1="39" y1="2556" x2="105" y2="2556" marker-start="url(#a)" marker-end="url(#a)"/><line x1="39" y1="2550" x2="39" y2="2580"/><line x1="105" y1="2550" x2="105" y2="2580"/>
<line x1="131" y1="2531" x2="284" y2="2531" marker-start="url(#a)" marker-end="url(#a)"/><line x1="131" y1="2527" x2="131" y2="2586"/><line x1="284" y1="2527" x2="284" y2="2586"/>
<line x1="131" y1="2557" x2="236" y2="2557" marker-start="url(#a)" marker-end="url(#a)"/><line x1="236" y1="2552" x2="236" y2="2586"/>
<line x1="181" y1="2573" x2="194" y2="2573"/>
<polyline points="164,2640 171,2670 198,2670"/><polyline points="213,2650 220,2670 245,2670"/><polyline points="283,2625 302,2670 325,2670"/>
</g>
<text class="t" x="58" y="2529">ϕ 29</text><text class="t" x="70" y="2553">24</text><text class="t" x="196" y="2528">38</text><text class="t" x="176" y="2554">25</text><text class="t" x="184" y="2570">4</text>
<text class="t" x="171" y="2668">M18</text><text class="t" x="224" y="2668">SW24</text><text class="t" x="307" y="2668">LED</text>
</g>
<g>
<ellipse class="bf" cx="460" cy="2611" rx="39" ry="43"/>
<polygon class="ln" points="460,2569 496,2590 496,2632 460,2654 424,2632 424,2590"/>
<g class="ln"><ellipse cx="460" cy="2611" rx="26" ry="29"/><ellipse cx="460" cy="2611" rx="21" ry="24"/></g>
<rect class="bf" x="531" y="2590" width="24" height="46"/>
<rect class="bf" x="555" y="2587" width="114" height="51"/>
<line class="ln" x1="637" y1="2587" x2="637" y2="2638"/>
<rect class="bf" x="670" y="2605" width="42" height="17" rx="3"/>
<rect class="bf" x="588" y="2576" width="13" height="73" rx="3"/>
<rect class="bf" x="611" y="2576" width="12" height="73" rx="3"/>
<g class="cl"><line x1="415" y1="2611" x2="505" y2="2611"/><line x1="460" y1="2565" x2="460" y2="2660"/><line x1="528" y1="2613" x2="715" y2="2613"/></g>
<g class="ln">
<line x1="420" y1="2532" x2="499" y2="2532" marker-start="url(#a)" marker-end="url(#a)"/><line x1="420" y1="2525" x2="420" y2="2590"/><line x1="499" y1="2525" x2="499" y2="2590"/>
<line x1="427" y1="2558" x2="492" y2="2558" marker-start="url(#a)" marker-end="url(#a)"/><line x1="427" y1="2552" x2="427" y2="2582"/><line x1="492" y1="2552" x2="492" y2="2582"/>
<line x1="555" y1="2543" x2="674" y2="2543" marker-start="url(#a)" marker-end="url(#a)"/><line x1="555" y1="2538" x2="555" y2="2587"/><line x1="674" y1="2538" x2="674" y2="2587"/>
<line x1="555" y1="2560" x2="637" y2="2560" marker-start="url(#a)" marker-end="url(#a)"/><line x1="637" y1="2555" x2="637" y2="2587"/>
<line x1="531" y1="2583" x2="555" y2="2583"/>
<polyline points="572,2638 578,2671 603,2671"/><polyline points="617,2649 624,2671 650,2671"/><polyline points="673,2625 694,2671 712,2671"/>
</g>
<text class="t" x="447" y="2530">ϕ 29</text><text class="t" x="458" y="2556">24</text><text class="t" x="606" y="2541">38</text><text class="t" x="589" y="2558">25</text><text class="t" x="593" y="2573">4</text><text class="t" x="539" y="2580">8</text>
<text class="t" x="578" y="2669">M18</text><text class="t" x="627" y="2669">SW24</text><text class="t" x="694" y="2669">LED</text>
</g>
<line x1="20" y1="2748" x2="740" y2="2748" stroke="#111"/>

<!-- TL-30 -->
<text class="s" x="122" y="2817">TL-30埋入式</text>
<text class="s" x="489" y="2817">TL-30非埋入式</text>
<g>
<ellipse class="bf" cx="57" cy="2978" rx="35" ry="36"/>
<polygon class="ln" points="57,2942 88,2960 88,2996 57,3014 26,2996 26,2960"/>
<g class="ln"><ellipse cx="57" cy="2978" rx="27" ry="28"/><ellipse cx="57" cy="2978" rx="22" ry="23"/><ellipse cx="57" cy="2978" rx="18" ry="19"/></g>
<rect class="bf" x="113" y="2936" width="158" height="77"/>
<line class="ln" x1="246" y1="2936" x2="246" y2="3013"/>
<rect class="bf" x="271" y="2970" width="31" height="16" rx="3"/>
<rect class="bf" x="164" y="2920" width="13" height="109" rx="3"/>
<rect class="bf" x="190" y="2920" width="12" height="109" rx="3"/>
<g class="cl"><line x1="18" y1="2977" x2="98" y2="2977"/><line x1="57" y1="2938" x2="57" y2="3020"/><line x1="100" y1="2977" x2="318" y2="2977"/></g>
<g class="ln">
<line x1="22" y1="2914" x2="91" y2="2914" marker-start="url(#a)" marker-end="url(#a)"/><line x1="22" y1="2908" x2="22" y2="2960"/><line x1="91" y1="2908" x2="91" y2="2960"/>
<line x1="25" y1="2931" x2="88" y2="2931" marker-start="url(#a)" marker-end="url(#a)"/><line x1="25" y1="2925" x2="25" y2="2950"/><line x1="88" y1="2925" x2="88" y2="2950"/>
<line x1="113" y1="2876" x2="271" y2="2876" marker-start="url(#a)" marker-end="url(#a)"/><line x1="113" y1="2870" x2="113" y2="2936"/><line x1="271" y1="2870" x2="271" y2="2936"/>
<line x1="113" y1="2891" x2="248" y2="2891" marker-start="url(#a)" marker-end="url(#a)"/><line x1="248" y1="2886" x2="248" y2="2936"/>
<line x1="164" y1="2905" x2="177" y2="2905"/><line x1="164" y1="2900" x2="164" y2="2920"/><line x1="177" y1="2900" x2="177" y2="2920"/>
<polyline points="130,3016 140,3052 180,3052"/><polyline points="197,3030 205,3052 232,3052"/><polyline points="275,2988 297,3052 318,3052"/>
</g>
<text class="d" x="50" y="2912">ϕ42</text><text class="d" x="54" y="2929">35</text><text class="t" x="186" y="2874">45</text><text class="t" x="175" y="2888">27</text><text class="t" x="167" y="2903">5</text>
<text class="t" x="142" y="3050">M30　.5</text><text class="t" x="210" y="3050">SW36</text><text class="t" x="300" y="3050">LED</text>
</g>
<g>
<ellipse class="bf" cx="447" cy="2973" rx="32" ry="34"/>
<polygon class="ln" points="447,2939 476,2956 476,2990 447,3007 418,2990 418,2956"/>
<g class="ln"><ellipse cx="447" cy="2973" rx="25" ry="27"/><ellipse cx="447" cy="2973" rx="20" ry="22"/><ellipse cx="447" cy="2973" rx="16" ry="18"/></g>
<rect class="bf" x="497" y="2942" width="31" height="66"/>
<rect class="bf" x="528" y="2938" width="111" height="72"/>
<rect class="bf" x="639" y="2942" width="24" height="66"/>
<rect class="bf" x="663" y="2966" width="29" height="16" rx="3"/>
<rect class="bf" x="566" y="2922" width="12" height="107" rx="3"/>
<rect class="bf" x="590" y="2922" width="12" height="107" rx="3"/>
<g class="cl"><line x1="410" y1="2973" x2="485" y2="2973"/><line x1="447" y1="2935" x2="447" y2="3015"/><line x1="490" y1="2974" x2="705" y2="2974"/></g>
<g class="ln">
<line x1="414" y1="2914" x2="479" y2="2914" marker-start="url(#a)" marker-end="url(#a)"/><line x1="414" y1="2908" x2="414" y2="2955"/><line x1="479" y1="2908" x2="479" y2="2955"/>
<line x1="417" y1="2931" x2="476" y2="2931" marker-start="url(#a)" marker-end="url(#a)"/><line x1="417" y1="2925" x2="417" y2="2950"/><line x1="476" y1="2925" x2="476" y2="2950"/>
<line x1="528" y1="2882" x2="663" y2="2882" marker-start="url(#a)" marker-end="url(#a)"/><line x1="528" y1="2877" x2="528" y2="2938"/><line x1="663" y1="2877" x2="663" y2="2942"/>
<line x1="528" y1="2900" x2="639" y2="2900" marker-start="url(#a)" marker-end="url(#a)"/><line x1="639" y1="2895" x2="639" y2="2938"/>
<line x1="497" y1="2926" x2="528" y2="2926"/><line x1="497" y1="2922" x2="497" y2="2942"/>
<line x1="566" y1="2912" x2="578" y2="2912"/>
<polyline points="536,3012 545,3047 580,3047"/><polyline points="596,3030 604,3047 632,3047"/><polyline points="665,2986 688,3047 708,3047"/>
</g>
<text class="d" x="437" y="2911">ϕ42</text><text class="d" x="441" y="2929">35</text><text class="t" x="588" y="2879">45</text><text class="t" x="578" y="2897">27</text><text class="t" x="570" y="2910">5</text><text class="t" x="506" y="2923">12</text>
<text class="t" x="546" y="3045">M30　.5</text><text class="t" x="605" y="3045">SW36</text><text class="t" x="690" y="3045">LED</text>
</g>
</svg>
</body></html>
